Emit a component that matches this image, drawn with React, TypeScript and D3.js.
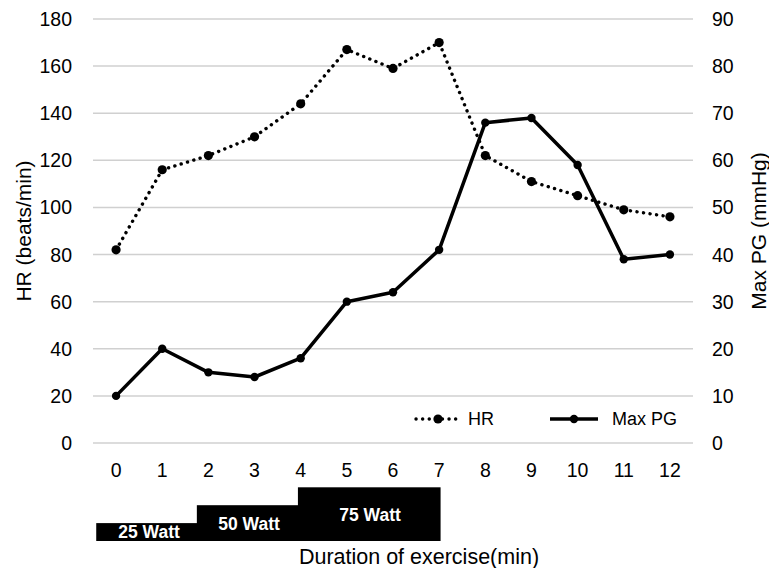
import React, { useEffect, useRef } from "react";
import * as d3 from "d3";

// minutes on the x axis
const minutes = [0, 1, 2, 3, 4, 5, 6, 7, 8, 9, 10, 11, 12];
// heart rate, beats/min (left axis)
const hrValues = [82, 116, 122, 130, 144, 167, 159, 170, 122, 111, 105, 99, 96];
// maximum pressure gradient, mmHg (right axis)
const maxPgValues = [10, 20, 15, 14, 18, 30, 32, 41, 68, 69, 59, 39, 40];
const hrTicks = [0, 20, 40, 60, 80, 100, 120, 140, 160, 180];
const pgTicks = [0, 10, 20, 30, 40, 50, 60, 70, 80, 90];
// workload steps under the axis (start/end in minutes, level = step height)
const stageLabels = ["25 Watt", "50 Watt", "75 Watt"];
const stageStart = [-0.43, 1.75, 3.94];
const stageEnd = [1.75, 3.94, 7.02];
const stageLevel = [1, 2, 3];

const W = 769;
const H = 568;
const FONT = "'Liberation Sans', Arial, sans-serif";

function App() {
  const svgRef = useRef<SVGSVGElement | null>(null);

  useEffect(() => {
    const svg = d3.select(svgRef.current);
    svg.selectAll("*").remove();

    const left = 93;
    const right = 693;
    const top = 19;
    const bottom = 443;

    const x = d3
      .scaleBand<number>()
      .domain(minutes)
      .range([left, right]);
    const xc = (m: number) => (x(m) as number) + x.bandwidth() / 2;
    // continuous version of x for the workload steps
    const xm = d3
      .scaleLinear()
      .domain([0, 12])
      .range([xc(0), xc(12)]);

    const yHr = d3.scaleLinear().domain([0, 180]).range([bottom, top]);
    const yPg = d3.scaleLinear().domain([0, 90]).range([bottom, top]);

    // gridlines
    svg
      .append("g")
      .selectAll("line")
      .data(hrTicks)
      .join("line")
      .attr("x1", left)
      .attr("x2", right)
      .attr("y1", (d) => yHr(d))
      .attr("y2", (d) => yHr(d))
      .attr("stroke", "#d0d0d0")
      .attr("stroke-width", 1.5);

    // left axis labels
    svg
      .append("g")
      .selectAll("text")
      .data(hrTicks)
      .join("text")
      .attr("x", 72)
      .attr("y", (d) => yHr(d))
      .attr("dy", "0.36em")
      .attr("text-anchor", "end")
      .attr("font-size", 19.5)
      .attr("font-family", FONT)
      .text((d) => d);

    // right axis labels
    svg
      .append("g")
      .selectAll("text")
      .data(pgTicks)
      .join("text")
      .attr("x", 712)
      .attr("y", (d) => yPg(d))
      .attr("dy", "0.36em")
      .attr("text-anchor", "start")
      .attr("font-size", 19.5)
      .attr("font-family", FONT)
      .text((d) => d);

    // x labels
    svg
      .append("g")
      .selectAll("text")
      .data(minutes)
      .join("text")
      .attr("x", (d) => xc(d))
      .attr("y", 477)
      .attr("text-anchor", "middle")
      .attr("font-size", 19.5)
      .attr("font-family", FONT)
      .text((d) => d);

    // axis titles
    svg
      .append("text")
      .attr("transform", `translate(31, ${(top + bottom) / 2}) rotate(-90)`)
      .attr("text-anchor", "middle")
      .attr("font-size", 21)
      .attr("font-family", FONT)
      .text("HR (beats/min)");
    svg
      .append("text")
      .attr("transform", `translate(766, ${(top + bottom) / 2}) rotate(-90)`)
      .attr("text-anchor", "middle")
      .attr("font-size", 21)
      .attr("font-family", FONT)
      .text("Max PG (mmHg)");
    svg
      .append("text")
      .attr("x", 419)
      .attr("y", 564)
      .attr("text-anchor", "middle")
      .attr("font-size", 21.5)
      .attr("font-family", FONT)
      .text("Duration of exercise(min)");

    // workload steps
    const stepBase = 541;
    const stepH = 17.9;
    const labelBase = [538, 530, 521];
    const stages = stageLabels.map((label, i) => ({
      label,
      x0: xm(stageStart[i]),
      x1: xm(stageEnd[i]),
      level: stageLevel[i],
      ly: labelBase[i],
    }));
    const sg = svg.append("g");
    sg.selectAll("rect")
      .data(stages)
      .join("rect")
      .attr("x", (d) => d.x0)
      .attr("width", (d) => d.x1 - d.x0 + 0.5)
      .attr("y", (d) => stepBase - stepH * d.level)
      .attr("height", (d) => stepH * d.level)
      .attr("fill", "#000");
    sg.selectAll("text")
      .data(stages)
      .join("text")
      .attr("x", (d, i) => [149, 249, 370][i])
      .attr("y", (d) => d.ly)
      .attr("text-anchor", "middle")
      .attr("font-size", 17.5)
      .attr("font-weight", "bold")
      .attr("font-family", FONT)
      .attr("fill", "#fff")
      .text((d) => d.label);

    // HR line (dotted)
    const hrLine = d3
      .line<number>()
      .x((_, i) => xc(minutes[i]))
      .y((d) => yHr(d));
    svg
      .append("path")
      .datum(hrValues)
      .attr("d", hrLine)
      .attr("fill", "none")
      .attr("stroke", "#000")
      .attr("stroke-width", 3.4)
      .attr("stroke-linecap", "round")
      .attr("stroke-dasharray", "0.1 6.5");
    svg
      .append("g")
      .selectAll("circle")
      .data(hrValues)
      .join("circle")
      .attr("cx", (_, i) => xc(minutes[i]))
      .attr("cy", (d) => yHr(d))
      .attr("r", 4.6)
      .attr("fill", "#000");

    // Max PG line (solid)
    const pgLine = d3
      .line<number>()
      .x((_, i) => xc(minutes[i]))
      .y((d) => yPg(d));
    svg
      .append("path")
      .datum(maxPgValues)
      .attr("d", pgLine)
      .attr("fill", "none")
      .attr("stroke", "#000")
      .attr("stroke-width", 3.5)
      .attr("stroke-linejoin", "round");
    svg
      .append("g")
      .selectAll("circle")
      .data(maxPgValues)
      .join("circle")
      .attr("cx", (_, i) => xc(minutes[i]))
      .attr("cy", (d) => yPg(d))
      .attr("r", 4.2)
      .attr("fill", "#000");

    // legend
    const lg = svg.append("g");
    const ly = 419;
    lg.append("line")
      .attr("x1", 416)
      .attr("x2", 459)
      .attr("y1", ly)
      .attr("y2", ly)
      .attr("stroke", "#000")
      .attr("stroke-width", 3.4)
      .attr("stroke-linecap", "round")
      .attr("stroke-dasharray", "0.1 6.5");
    lg.append("circle").attr("cx", 438).attr("cy", ly).attr("r", 4.6);
    lg.append("text")
      .attr("x", 468)
      .attr("y", ly)
      .attr("dy", "0.36em")
      .attr("font-size", 18)
      .attr("font-family", FONT)
      .text("HR");
    lg.append("line")
      .attr("x1", 550)
      .attr("x2", 598)
      .attr("y1", ly)
      .attr("y2", ly)
      .attr("stroke", "#000")
      .attr("stroke-width", 3.5);
    lg.append("circle").attr("cx", 574).attr("cy", ly).attr("r", 4.2);
    lg.append("text")
      .attr("x", 612)
      .attr("y", ly)
      .attr("dy", "0.36em")
      .attr("font-size", 18)
      .attr("font-family", FONT)
      .text("Max PG");
  }, []);

  return (
    <div style={{ position: "absolute", left: 0, top: 0 }}>
      <svg ref={svgRef} width={W} height={H} style={{ display: "block", background: "#fff" }} />
    </div>
  );
}

export default App;
